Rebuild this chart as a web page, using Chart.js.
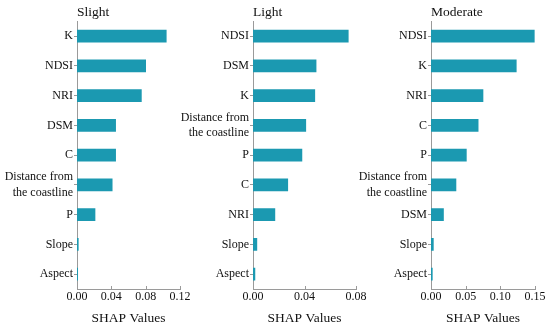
<!DOCTYPE html>
<html>
<head>
<meta charset="utf-8">
<script src="https://cdn.jsdelivr.net/npm/chart.js@4/dist/chart.umd.min.js"></script>
<style>
  html, body { margin: 0; padding: 0; background: #fff; }
  #wrap { position: relative; width: 550px; height: 331px; overflow: hidden; }
  #wrap canvas { position: absolute; top: 0; }
</style>
</head>
<body>
<div id="wrap">
  <canvas id="slight" width="200" height="331" style="left:0px"></canvas>
  <canvas id="light" width="200" height="331" style="left:176px"></canvas>
  <canvas id="moderate" width="196" height="331" style="left:354px"></canvas>
</div>
<script>
const dist = ['Distance from', 'the coastline'];

const slightLabels = ['K', 'NDSI', 'NRI', 'DSM', 'C', dist, 'P', 'Slope', 'Aspect'];
const slightValues = [0.104, 0.080, 0.075, 0.045, 0.045, 0.041, 0.021, 0.0015, 0.0008];

const lightLabels = ['NDSI', 'DSM', 'K', dist, 'P', 'C', 'NRI', 'Slope', 'Aspect'];
const lightValues = [0.074, 0.049, 0.048, 0.041, 0.038, 0.027, 0.017, 0.003, 0.0015];

const moderateLabels = ['NDSI', 'K', 'NRI', 'C', 'P', dist, 'DSM', 'Slope', 'Aspect'];
const moderateValues = [0.149, 0.123, 0.075, 0.068, 0.051, 0.036, 0.018, 0.0034, 0.0019];

const xMax = [0.12, 0.08, 0.15];
const xStep = [0.04, 0.04, 0.05];
const titles = ['Slight', 'Light', 'Moderate'];

const fontFamily = "'Liberation Serif', 'Times New Roman', serif";
const barColor = '#1b99b1';
const axisColor = '#9a9a9a';
const textColor = '#111';

// small tick marks pointing up into the plot, like the original
const innerTicks = {
  id: 'innerTicks',
  afterDraw(chart) {
    const x = chart.scales.x;
    const ctx = chart.ctx;
    ctx.save();
    ctx.strokeStyle = axisColor;
    ctx.lineWidth = 1;
    x.ticks.forEach(t => {
      const px = Math.round(x.getPixelForValue(t.value)) + 0.5;
      ctx.beginPath();
      ctx.moveTo(px, x.top);
      ctx.lineTo(px, x.top - 3);
      ctx.stroke();
    });
    ctx.restore();
  }
};

function makeChart(id, labels, values, i, padRight) {
  new Chart(document.getElementById(id), {
    type: 'bar',
    data: {
      labels: labels,
      datasets: [{
        data: values,
        backgroundColor: barColor,
        borderWidth: 0,
        barThickness: 12
      }]
    },
    plugins: [innerTicks],
    options: {
      indexAxis: 'y',
      responsive: false,
      animation: false,
      layout: { padding: { left: 0, right: padRight, top: 0, bottom: 0 } },
      plugins: {
        legend: { display: false },
        tooltip: { enabled: false },
        title: {
          display: true,
          text: titles[i],
          align: 'start',
          fullSize: false,
          color: textColor,
          font: { family: fontFamily, size: 13.5, weight: 'normal' },
          padding: { top: 4, bottom: 1 }
        }
      },
      scales: {
        x: {
          min: 0,
          max: xMax[i],
          ticks: {
            stepSize: xStep[i],
            color: textColor,
            padding: 1,
            maxRotation: 0,
            font: { family: fontFamily, size: 12 },
            callback: v => v.toFixed(2)
          },
          grid: { display: false, drawTicks: false },
          border: { display: true, color: axisColor, width: 1 },
          title: {
            display: true,
            text: 'SHAP Values',
            color: textColor,
            font: { family: fontFamily, size: 13.5 },
            padding: { top: 0, bottom: 4 }
          },
          afterFit(scale) {
            scale.height = 42;
            scale.paddingLeft = 0;
            scale.paddingRight = 0;
          }
        },
        y: {
          ticks: {
            autoSkip: false,
            color: textColor,
            padding: 1,
            font: { family: fontFamily, size: 12, lineHeight: 1.33 }
          },
          grid: {
            display: true,
            offset: false,
            drawOnChartArea: false,
            drawTicks: true,
            tickLength: 3,
            color: axisColor
          },
          border: { display: true, color: axisColor, width: 1 },
          afterFit(scale) {
            scale.width = 77;
            scale.paddingTop = 0;
            scale.paddingBottom = 0;
          }
        }
      }
    }
  });
}

makeChart('slight', slightLabels, slightValues, 0, 20);
makeChart('light', lightLabels, lightValues, 1, 20);
makeChart('moderate', moderateLabels, moderateValues, 2, 15);
</script>
</body>
</html>
